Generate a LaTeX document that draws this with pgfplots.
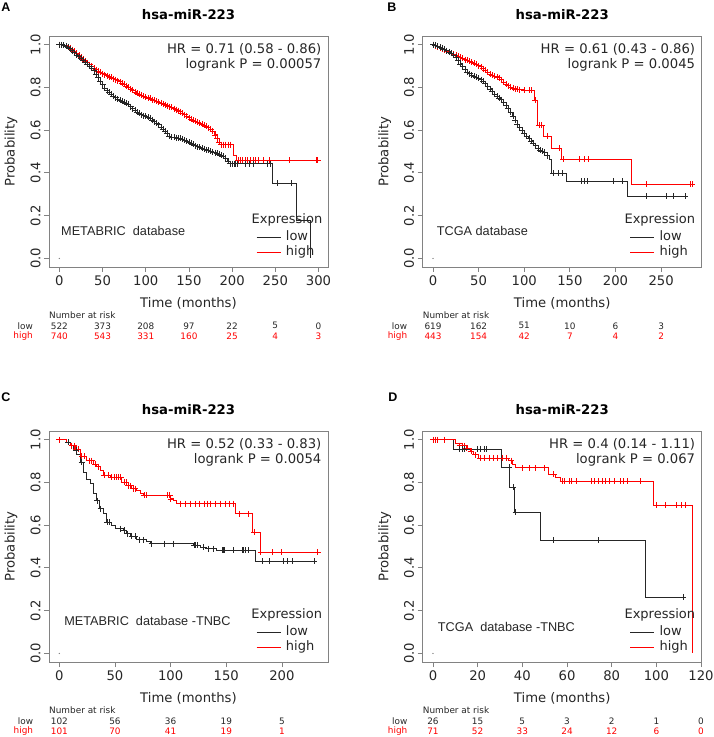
\documentclass[border=0pt]{standalone}
\usepackage{pgfplots}
\pgfplotsset{compat=1.18}
\usepackage{pgfplotstable}
\usepackage{fontspec}
\setmainfont{DejaVu Sans}
\newfontfamily\arialf{Liberation Sans}
\definecolor{kmred}{RGB}{255,0,0}
\definecolor{framegray}{RGB}{130,130,130}
\newcommand{\fs}[1]{\fontsize{#1}{#1}\selectfont}

% ---------- Panel A data ----------
\pgfplotstableread{
x y
0 1.000
2.5 0.999
5 0.997
7.5 0.993
10 0.988
12.5 0.981
15 0.972
17.5 0.962
20 0.952
22.5 0.944
25 0.935
27.5 0.927
30 0.918
32.5 0.909
35 0.900
37.5 0.890
40 0.878
42.5 0.862
45 0.845
47.5 0.828
50 0.812
52.5 0.797
55 0.785
57.5 0.776
60 0.768
62.5 0.760
65 0.752
67.5 0.746
70 0.740
72.5 0.735
75 0.730
77.5 0.726
80 0.720
82.5 0.710
85 0.700
87.5 0.692
90 0.684
92.5 0.678
95 0.672
97.5 0.668
100 0.664
102.5 0.660
105 0.655
107.5 0.648
110 0.640
112.5 0.633
115 0.625
117.5 0.615
120 0.605
122.5 0.595
125 0.585
127.5 0.572
130 0.568
132.5 0.566
135 0.565
137.5 0.563
140 0.562
142.5 0.559
145 0.554
147.5 0.549
150 0.544
152.5 0.539
155 0.533
157.5 0.527
160 0.522
162.5 0.519
165 0.516
167.5 0.512
170 0.508
172.5 0.505
175 0.501
177.5 0.498
180 0.495
182.5 0.491
185 0.487
187.5 0.483
190 0.478
192.5 0.470
195 0.455
197.5 0.443
246 0.352
274 0.180
290 0.000
}\Alow
\pgfplotstableread{
x y
0 1.000
2.5 0.999
5 0.997
7.5 0.994
10 0.990
12.5 0.984
15 0.976
17.5 0.968
20 0.960
22.5 0.951
25 0.942
27.5 0.933
30 0.924
32.5 0.915
35 0.906
37.5 0.898
40 0.890
42.5 0.883
45 0.876
47.5 0.870
50 0.864
52.5 0.859
55 0.855
57.5 0.850
60 0.846
62.5 0.841
65 0.836
67.5 0.831
70 0.826
72.5 0.820
75 0.814
77.5 0.807
80 0.800
82.5 0.793
85 0.786
87.5 0.779
90 0.772
92.5 0.767
95 0.762
97.5 0.758
100 0.755
102.5 0.751
105 0.748
107.5 0.743
110 0.739
112.5 0.735
115 0.731
117.5 0.727
120 0.723
122.5 0.719
125 0.715
127.5 0.710
130 0.706
132.5 0.701
135 0.696
137.5 0.691
140 0.686
142.5 0.679
145 0.672
147.5 0.665
150 0.658
152.5 0.652
155 0.647
157.5 0.642
160 0.637
162.5 0.632
165 0.627
167.5 0.622
170 0.617
172.5 0.611
175 0.605
177.5 0.595
180 0.578
182.5 0.560
185 0.545
187.5 0.532
201 0.484
205 0.458
299 0.458
}\Ahigh
\pgfplotstableread{
x y
200 0.443
202 0.443
204 0.443
206 0.443
215 0.443
220 0.443
225 0.443
241 0.443
244 0.443
252 0.352
269 0.352
}\Alowc
\pgfplotstableread{
x y
190 0.532
192.5 0.532
195 0.532
197.5 0.532
207 0.458
209 0.458
212 0.458
215 0.458
218 0.458
221 0.458
224 0.458
227 0.458
230 0.458
236 0.458
243 0.458
266 0.458
297 0.458
299 0.458
}\Ahighc

% ---------- Panel B data ----------
\pgfplotstableread{
x y
0 1.000
2.5 0.996
5 0.992
7.5 0.988
10 0.984
12.5 0.978
15 0.972
17.5 0.966
20 0.960
22.5 0.952
25 0.940
27.5 0.925
30 0.910
32.5 0.896
35 0.883
37.5 0.872
40 0.864
42.5 0.858
45 0.852
47.5 0.847
50 0.842
52.5 0.836
55 0.828
57.5 0.817
60 0.805
62.5 0.793
65 0.780
67.5 0.768
70 0.758
72.5 0.751
75 0.743
77.5 0.732
80 0.718
82.5 0.701
85 0.683
87.5 0.664
90 0.645
92.5 0.628
95 0.611
97.5 0.597
100 0.585
102.5 0.572
105 0.561
107.5 0.550
110 0.540
112.5 0.528
115 0.513
117.5 0.505
120 0.500
122.5 0.496
125 0.480
127 0.464
130 0.399
146 0.360
213 0.290
278 0.290
}\Blow
\pgfplotstableread{
x y
0 1.000
2.5 0.995
5 0.990
7.5 0.985
10 0.981
12.5 0.976
15 0.970
17.5 0.965
20 0.960
22.5 0.955
25 0.950
27.5 0.945
30 0.940
32.5 0.935
35 0.930
37.5 0.926
40 0.922
42.5 0.917
45 0.912
47.5 0.907
50 0.902
52.5 0.896
55 0.888
57.5 0.880
60 0.870
62.5 0.862
65 0.856
67.5 0.852
70 0.849
72.5 0.845
75 0.836
77.5 0.825
80 0.815
82.5 0.808
85 0.802
87.5 0.797
90 0.793
92.5 0.790
95 0.789
100 0.787
105 0.787
108 0.787
111 0.741
114 0.622
121 0.573
130 0.516
141 0.464
217 0.348
284 0.348
}\Bhigh
\pgfplotstableread{
x y
132 0.399
137 0.399
142 0.399
163 0.360
166 0.360
169 0.360
198 0.360
207 0.360
234 0.290
256 0.290
263 0.290
276 0.290
}\Blowc
\pgfplotstableread{
x y
112 0.741
116 0.622
119 0.622
125 0.573
138 0.516
143 0.464
160 0.464
166 0.464
170 0.464
234 0.348
282 0.348
284 0.348
}\Bhighc

% ---------- Panel C data ----------
\pgfplotstableread{
x y
0 1.000
6.6 0.988
10 0.972
12.6 0.949
15.6 0.933
18.6 0.894
21.6 0.848
24.6 0.816
27.6 0.793
30.6 0.747
33.6 0.715
36 0.677
39.6 0.653
42.6 0.614
47 0.599
50 0.583
57.5 0.575
60.5 0.560
63.5 0.547
69.5 0.532
78 0.522
81.5 0.513
120.5 0.505
126.5 0.498
132.5 0.490
141.5 0.482
176 0.431
231 0.431
}\Clow
\pgfplotstableread{
x y
0 1.000
6.6 0.988
9.6 0.972
14 0.956
18.6 0.921
24.6 0.902
30.6 0.886
33.6 0.874
36.6 0.855
39.6 0.832
45.6 0.824
56 0.800
62 0.785
65 0.770
69.5 0.762
72.5 0.747
75.5 0.739
99.5 0.723
102.5 0.715
105.5 0.700
158 0.653
173 0.568
180.5 0.474
232 0.474
}\Chigh
\pgfplotstableread{
x y
8 0.988
15 0.949
20 0.894
34 0.715
37 0.677
43 0.614
45 0.614
55 0.583
58 0.575
61 0.560
65 0.547
68 0.547
72 0.532
75 0.532
83 0.513
94 0.513
102 0.513
121 0.505
122 0.505
124 0.505
129 0.498
134 0.490
138 0.490
146 0.482
147 0.482
148 0.482
156 0.482
164 0.482
165 0.482
167 0.482
170 0.482
182 0.431
189 0.431
201 0.431
205 0.431
209 0.431
229 0.431
}\Clowc
\pgfplotstableread{
x y
0 1.000
8 0.988
11 0.972
13 0.972
15 0.956
17 0.956
20 0.921
22 0.921
27 0.902
29 0.902
32 0.886
35 0.874
40 0.832
44 0.832
47 0.824
49 0.824
51 0.824
53 0.824
55 0.824
58 0.800
60 0.800
62 0.785
64 0.785
66 0.770
68 0.770
76 0.739
78 0.739
97 0.739
99 0.739
100 0.723
109 0.700
113 0.700
118 0.700
122 0.700
126 0.700
130 0.700
133 0.700
136 0.700
140 0.700
145 0.700
149 0.700
153 0.700
156 0.700
162 0.653
170 0.653
175 0.568
181 0.474
191 0.474
199 0.474
232 0.474
}\Chighc

% ---------- Panel D data ----------
\pgfplotstableread{
x y
0 1.000
9 0.956
30.4 0.871
34.2 0.778
36.6 0.661
48 0.529
95 0.264
111.5 0.264
}\Dlow
\pgfplotstableread{
x y
0 1.000
10 0.980
13 0.972
15.2 0.961
16.7 0.946
18.2 0.930
20.4 0.914
33.9 0.902
35.4 0.883
36.9 0.868
51.8 0.837
54.8 0.824
57 0.806
98.8 0.692
116 0.000
}\Dhigh
\pgfplotstableread{
x y
12 0.956
13 0.956
14 0.956
20 0.956
21 0.956
23 0.956
24 0.956
34 0.871
36 0.778
37 0.661
54 0.529
74 0.529
112 0.264
}\Dlowc
\pgfplotstableread{
x y
0 1.000
1 1.000
2 1.000
5 1.000
12 0.972
13 0.972
14 0.972
15 0.961
17 0.946
19 0.930
21 0.914
23 0.914
25 0.914
27 0.914
29 0.914
31 0.914
33 0.914
35 0.902
40 0.868
43 0.868
46 0.868
50 0.868
54 0.837
58 0.806
59 0.806
61 0.806
62 0.806
64 0.806
71 0.806
72 0.806
74 0.806
76 0.806
77 0.806
79 0.806
81 0.806
84 0.806
85 0.806
87 0.806
93 0.806
100 0.692
104 0.692
109 0.692
111 0.692
113 0.692
}\Dhighc

\tikzset{
  nar/.style={font=\fs{8.9}, inner sep=0pt, text=black!85},
  narh/.style={font=\fs{8.9}, inner sep=0pt, text=kmred},
  hr/.style={anchor=east, font=\fs{13.2}, inner sep=0pt, text=black!85},
  db/.style={anchor=west, font=\arialf\fs{12.7}, inner sep=0pt, text=black!85},
  ex/.style={font=\fs{13}, inner sep=0pt, text=black!85},
  plab/.style={font=\arialf\bfseries\fs{12.5}, inner sep=0pt},
}

\pgfplotsset{
  km/.style={
    scale only axis, width=279pt, height=231pt,
    anchor=south west,
    clip=false,
    axis line style={draw=framegray, line width=0.8pt},
    tick style={draw=framegray, line width=0.8pt},
    tick align=outside, major tick length=5pt,
    xtick pos=bottom, ytick pos=left,
    ymin=-0.04, ymax=1.04, ytick={0,0.2,0.4,0.6,0.8,1},
    /pgf/number format/assume math mode=true,
    ticklabel style={font=\fs{13.2}, text=black!85},
    yticklabel style={rotate=90, anchor=south,
      /pgf/number format/.cd, fixed, fixed zerofill, precision=1},
    every axis x label/.style={at={(axis description cs:0.5,0)}, anchor=center,
      yshift=-36pt, font=\fs{13.2}, text=black!85},
    every axis y label/.style={at={(axis description cs:0,0.5)}, anchor=center,
      rotate=90, yshift=38pt, font=\fs{13.2}, text=black!85},
    xlabel={Time (months)}, ylabel={Probability},
    every axis title/.style={at={(axis description cs:0.5,1)}, anchor=center,
      yshift=21pt, font=\bfseries\fs{13.2}},
    title={hsa-miR-223},
    legend image code/.code={\draw[#1] (0pt,0pt) -- (24pt,0pt);},
    legend cell align=left,
    legend style={draw=none, fill=none, at={(axis description cs:0.742,0.162)},
      anchor=north west, font=\fs{13}, inner sep=0pt, row sep=1pt,
      column sep=4pt,
      nodes={inner sep=1pt, text height=9.5pt, text depth=3pt, text=black!85}},
  },
  lowc/.style={const plot, black!85, line width=0.7pt, mark=none},
  highc/.style={const plot, kmred, line width=0.7pt, mark=none},
  lowm/.style={only marks, mark=+, mark size=3pt, black!85,
    mark options={line width=0.6pt}, forget plot},
  highm/.style={only marks, mark=+, mark size=3pt, kmred,
    mark options={line width=0.6pt}, forget plot},
  dotz/.style={only marks, mark=*, mark size=0.4pt, gray, forget plot},
}

\begin{document}
\begin{tikzpicture}
% ===== Panel A =====
\begin{axis}[km, at={(49pt,470pt)}, xmin=-12, xmax=311, xtick={0,50,...,300}]
\addplot[lowc] table {\Alow};
\addlegendentry{low}
\addplot[highc] table {\Ahigh};
\addlegendentry{high}
\addplot[highm] table[restrict x to domain=0:200] {\Ahigh};
\addplot[highm] table {\Ahighc};
\addplot[lowm] table[restrict x to domain=0:198] {\Alow};
\addplot[lowm] table {\Alowc};
\addplot[dotz] coordinates {(0,0)};
\node[hr] at (rel axis cs:0.977,0.942) {HR = 0.71 (0.58 - 0.86)};
\node[hr] at (rel axis cs:0.977,0.874) {logrank P = 0.00057};
\node[db] at (rel axis cs:0.043,0.156) {METABRIC\ \ database};
\node[ex] at (rel axis cs:0.853,0.203) {Expression};
\node[nar, anchor=west] at (axis cs:-12,-0.265) {Number at risk};
\node[nar, anchor=east] at (axis cs:-30.5,-0.315) {low};
\node[narh, anchor=east] at (axis cs:-30.5,-0.364) {high};
\node[nar] at (axis cs:0,-0.315) {522};
\node[nar] at (axis cs:50,-0.315) {373};
\node[nar] at (axis cs:100,-0.315) {208};
\node[nar] at (axis cs:150,-0.315) {97};
\node[nar] at (axis cs:200,-0.315) {22};
\node[nar] at (axis cs:250,-0.315) {5};
\node[nar] at (axis cs:300,-0.315) {0};
\node[narh] at (axis cs:0,-0.364) {740};
\node[narh] at (axis cs:50,-0.364) {543};
\node[narh] at (axis cs:100,-0.364) {331};
\node[narh] at (axis cs:150,-0.364) {160};
\node[narh] at (axis cs:200,-0.364) {25};
\node[narh] at (axis cs:250,-0.364) {4};
\node[narh] at (axis cs:300,-0.364) {3};
\end{axis}

% ===== Panel B =====
\begin{axis}[km, at={(422.7pt,470pt)}, xmin=-11.3, xmax=294.5, xtick={0,50,...,250}]
\addplot[lowc] table {\Blow};
\addlegendentry{low}
\addplot[highc] table {\Bhigh};
\addlegendentry{high}
\addplot[highm] table[restrict x to domain=0:110] {\Bhigh};
\addplot[highm] table {\Bhighc};
\addplot[lowm] table[restrict x to domain=0:125] {\Blow};
\addplot[lowm] table {\Blowc};
\addplot[dotz] coordinates {(0,0)};
\node[hr] at (rel axis cs:0.977,0.942) {HR = 0.61 (0.43 - 0.86)};
\node[hr] at (rel axis cs:0.977,0.874) {logrank P = 0.0045};
\node[db] at (rel axis cs:0.05,0.156) {TCGA database};
\node[ex] at (rel axis cs:0.85,0.203) {Expression};
\node[nar, anchor=west] at (axis cs:-11.3,-0.265) {Number at risk};
\node[nar, anchor=east] at (axis cs:-28.1,-0.315) {low};
\node[narh, anchor=east] at (axis cs:-28.1,-0.364) {high};
\node[nar] at (axis cs:0,-0.315) {619};
\node[nar] at (axis cs:50,-0.315) {162};
\node[nar] at (axis cs:100,-0.315) {51};
\node[nar] at (axis cs:150,-0.315) {10};
\node[nar] at (axis cs:200,-0.315) {6};
\node[nar] at (axis cs:250,-0.315) {3};
\node[narh] at (axis cs:0,-0.364) {443};
\node[narh] at (axis cs:50,-0.364) {154};
\node[narh] at (axis cs:100,-0.364) {42};
\node[narh] at (axis cs:150,-0.364) {7};
\node[narh] at (axis cs:200,-0.364) {4};
\node[narh] at (axis cs:250,-0.364) {2};
\end{axis}

% ===== Panel C =====
\begin{axis}[km, at={(49pt,75pt)}, xmin=-9.3, xmax=241.4, xtick={0,50,...,200}]
\addplot[lowc] table {\Clow};
\addlegendentry{low}
\addplot[highc] table {\Chigh};
\addlegendentry{high}
\addplot[highm] table {\Chighc};
\addplot[lowm] table {\Clowc};
\addplot[dotz] coordinates {(0,0)};
\node[hr] at (rel axis cs:0.977,0.942) {HR = 0.52 (0.33 - 0.83)};
\node[hr] at (rel axis cs:0.977,0.874) {logrank P = 0.0054};
\node[db] at (rel axis cs:0.054,0.176) {METABRIC\ \ database -TNBC};
\node[ex] at (rel axis cs:0.852,0.206) {Expression};
\node[nar, anchor=west] at (axis cs:-9.3,-0.265) {Number at risk};
\node[nar, anchor=east] at (axis cs:-23.4,-0.315) {low};
\node[narh, anchor=east] at (axis cs:-23.4,-0.364) {high};
\node[nar] at (axis cs:0,-0.315) {102};
\node[nar] at (axis cs:50,-0.315) {56};
\node[nar] at (axis cs:100,-0.315) {36};
\node[nar] at (axis cs:150,-0.315) {19};
\node[nar] at (axis cs:200,-0.315) {5};
\node[narh] at (axis cs:0,-0.364) {101};
\node[narh] at (axis cs:50,-0.364) {70};
\node[narh] at (axis cs:100,-0.364) {41};
\node[narh] at (axis cs:150,-0.364) {19};
\node[narh] at (axis cs:200,-0.364) {1};
\end{axis}

% ===== Panel D =====
\begin{axis}[km, at={(422.7pt,75pt)}, xmin=-4.6, xmax=120.3, xtick={0,20,...,120}]
\addplot[lowc] table {\Dlow};
\addlegendentry{low}
\addplot[highc] table {\Dhigh};
\addlegendentry{high}
\addplot[highm] table {\Dhighc};
\addplot[lowm] table {\Dlowc};
\addplot[dotz] coordinates {(0,0)};
\node[hr] at (rel axis cs:0.977,0.942) {HR = 0.4 (0.14 - 1.11)};
\node[hr] at (rel axis cs:0.977,0.874) {logrank P = 0.067};
\node[db] at (rel axis cs:0.054,0.151) {TCGA\ \ database -TNBC};
\node[ex] at (rel axis cs:0.85,0.205) {Expression};
\node[nar, anchor=west] at (axis cs:-4.6,-0.265) {Number at risk};
\node[nar, anchor=east] at (axis cs:-11.4,-0.315) {low};
\node[narh, anchor=east] at (axis cs:-11.4,-0.364) {high};
\node[nar] at (axis cs:0,-0.315) {26};
\node[nar] at (axis cs:20,-0.315) {15};
\node[nar] at (axis cs:40,-0.315) {5};
\node[nar] at (axis cs:60,-0.315) {3};
\node[nar] at (axis cs:80,-0.315) {2};
\node[nar] at (axis cs:100,-0.315) {1};
\node[nar] at (axis cs:120,-0.315) {0};
\node[narh] at (axis cs:0,-0.364) {71};
\node[narh] at (axis cs:20,-0.364) {52};
\node[narh] at (axis cs:40,-0.364) {33};
\node[narh] at (axis cs:60,-0.364) {24};
\node[narh] at (axis cs:80,-0.364) {12};
\node[narh] at (axis cs:100,-0.364) {6};
\node[narh] at (axis cs:120,-0.364) {0};
\end{axis}

% panel letters
\node[plab] at (6pt,729.5pt) {A};
\node[plab] at (392pt,729.5pt) {B};
\node[plab] at (6pt,340pt) {C};
\node[plab] at (393pt,340pt) {D};

\pgfresetboundingbox
\useasboundingbox (0,0) rectangle (713pt,737pt);
\end{tikzpicture}
\end{document}
